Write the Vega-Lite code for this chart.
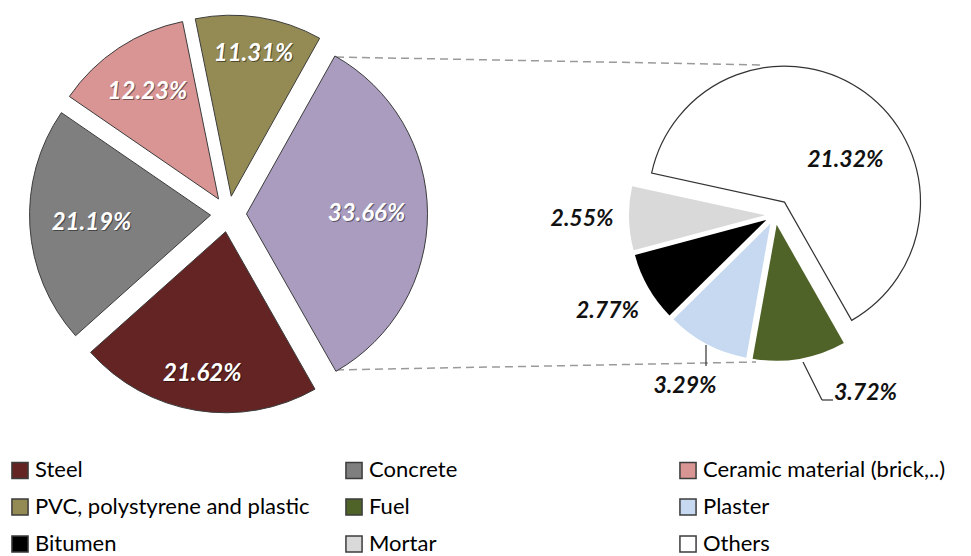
{
  "$schema": "https://vega.github.io/schema/vega-lite/v6.json",
  "width": 971,
  "height": 440,
  "padding": 0,
  "background": "white",
  "config": {"view": {"stroke": null}},
  "data": {"values": [
    {"pie": "main", "cat": "Steel", "value": 21.62, "ord": 1, "label": "21.62%"},
    {"pie": "main", "cat": "Concrete", "value": 21.19, "ord": 2, "label": "21.19%"},
    {"pie": "main", "cat": "Ceramic material (brick,..)", "value": 12.23, "ord": 3, "label": "12.23%"},
    {"pie": "main", "cat": "PVC, polystyrene and plastic", "value": 11.31, "ord": 4, "label": "11.31%"},
    {"pie": "main", "cat": "Others (group)", "value": 33.66, "ord": 5, "label": "33.66%"},
    {"pie": "detail", "cat": "Fuel", "value": 3.72, "ord": 1, "label": "3.72%"},
    {"pie": "detail", "cat": "Plaster", "value": 3.29, "ord": 2, "label": "3.29%"},
    {"pie": "detail", "cat": "Bitumen", "value": 2.77, "ord": 3, "label": "2.77%"},
    {"pie": "detail", "cat": "Mortar", "value": 2.55, "ord": 4, "label": "2.55%"},
    {"pie": "detail", "cat": "Others", "value": 21.32, "ord": 5, "label": "21.32%"}
  ]},
  "layer": [
    {
      "data": {"values": [{}]},
      "mark": {"type": "rule", "color": "#9a9a9a", "strokeWidth": 1.5, "strokeDash": [8, 5]},
      "encoding": {
        "x": {"datum": 336, "type": "quantitative", "scale": {"domain": [0, 971], "nice": false, "zero": false}, "axis": null},
        "y": {"datum": 57, "type": "quantitative", "scale": {"domain": [0, 440], "nice": false, "zero": false, "reverse": true}, "axis": null},
        "x2": {"datum": 762},
        "y2": {"datum": 65}
      }
    },
    {
      "data": {"values": [{}]},
      "mark": {"type": "rule", "color": "#9a9a9a", "strokeWidth": 1.5, "strokeDash": [8, 5]},
      "encoding": {
        "x": {"datum": 336, "type": "quantitative", "scale": {"domain": [0, 971], "nice": false, "zero": false}, "axis": null},
        "y": {"datum": 370, "type": "quantitative", "scale": {"domain": [0, 440], "nice": false, "zero": false, "reverse": true}, "axis": null},
        "x2": {"datum": 756},
        "y2": {"datum": 362}
      }
    },
    {
      "transform": [{"filter": "datum.pie == 'main'"}],
      "mark": {
        "type": "arc", "outerRadius": 181, "stroke": "#3c3c3c", "strokeWidth": 1,
        "xOffset": {"expr": "18*sin(2.625+PI*(datum.value_start+datum.value_end))"},
        "yOffset": {"expr": "-18*cos(2.625+PI*(datum.value_start+datum.value_end))"}
      },
      "encoding": {
        "x": {"datum": 228.5, "type": "quantitative", "scale": {"domain": [0, 971], "nice": false, "zero": false}, "axis": null},
        "y": {"datum": 214, "type": "quantitative", "scale": {"domain": [0, 440], "nice": false, "zero": false, "reverse": true}, "axis": null},
        "theta": {"field": "value", "type": "quantitative", "stack": "normalize", "scale": {"domain": [0, 1], "range": [2.625, 8.908]}},
        "order": {"field": "ord", "type": "quantitative"},
        "color": {
          "field": "cat", "type": "nominal",
          "scale": {
            "domain": ["Steel", "Concrete", "Ceramic material (brick,..)", "PVC, polystyrene and plastic", "Fuel", "Plaster", "Bitumen", "Mortar", "Others", "Others (group)"],
            "range": ["#632423", "#7f7f7f", "#d99594", "#948a54", "#4f6228", "#c6d9f1", "#000000", "#d9d9d9", "#ffffff", "#a99cbf"]
          },
          "legend": {
            "values": ["Steel", "Concrete", "Ceramic material (brick,..)", "PVC, polystyrene and plastic", "Fuel", "Plaster", "Bitumen", "Mortar", "Others"],
            "title": null,
            "orient": "bottom",
            "direction": "horizontal",
            "columns": 3,
            "gridAlign": "all",
            "offset": 10,
            "padding": 9,
            "rowPadding": 13,
            "columnPadding": 32,
            "symbolType": "square",
            "symbolSize": 260,
            "symbolStrokeWidth": 1.5,
            "labelFont": "Lato",
            "labelFontSize": 22,
            "labelColor": "#000000",
            "labelLimit": 400,
            "labelOffset": 4,
            "labelBaseline": "middle",
            "encode": {
              "symbols": {"update": {
                "stroke": {"signal": "indexof(['Fuel','Plaster','Bitumen','Mortar'], datum.value) >= 0 ? 'transparent' : '#333333'"},
                "strokeWidth": {"value": 1.5}
              }}
            }
          }
        }
      }
    },
    {
      "transform": [{"filter": "datum.pie == 'detail'"}],
      "mark": {
        "type": "arc", "outerRadius": 136, "stroke": "#333333",
        "xOffset": {"expr": "(datum.cat == 'Others' ? 16 : 10)*sin(2.625+PI*(datum.value_start+datum.value_end))"},
        "yOffset": {"expr": "-(datum.cat == 'Others' ? 16 : 10)*cos(2.625+PI*(datum.value_start+datum.value_end))"}
      },
      "encoding": {
        "x": {"datum": 775, "type": "quantitative", "scale": {"domain": [0, 971], "nice": false, "zero": false}, "axis": null},
        "y": {"datum": 215, "type": "quantitative", "scale": {"domain": [0, 440], "nice": false, "zero": false, "reverse": true}, "axis": null},
        "theta": {"field": "value", "type": "quantitative", "stack": "normalize", "scale": {"domain": [0, 1], "range": [2.625, 8.908]}},
        "order": {"field": "ord", "type": "quantitative"},
        "color": {"field": "cat", "type": "nominal"},
        "strokeWidth": {"condition": {"test": "datum.cat == 'Others'", "value": 1.2}, "value": 0}
      }
    },
    {
      "transform": [{"filter": "datum.pie == 'main'"}],
      "mark": {
        "type": "text", "font": "Lato", "fontSize": 24, "fontStyle": "italic", "fontWeight": "bold",
        "align": "center", "baseline": "middle", "fill": "#000000", "opacity": 0.45, "dx": 1, "dy": 1,
        "radius": {"expr": "182 - 44*abs(sin(2.625+PI*(datum.value_start+datum.value_end))) - 13*abs(cos(2.625+PI*(datum.value_start+datum.value_end)))"}
      },
      "encoding": {
        "x": {"datum": 228.5, "type": "quantitative", "scale": {"domain": [0, 971], "nice": false, "zero": false}, "axis": null},
        "y": {"datum": 214, "type": "quantitative", "scale": {"domain": [0, 440], "nice": false, "zero": false, "reverse": true}, "axis": null},
        "theta": {"field": "value", "type": "quantitative", "stack": "normalize", "scale": {"domain": [0, 1], "range": [2.625, 8.908]}},
        "order": {"field": "ord", "type": "quantitative"},
        "text": {"field": "label"}
      }
    },
    {
      "transform": [{"filter": "datum.pie == 'main'"}],
      "mark": {
        "type": "text", "font": "Lato", "fontSize": 24, "fontStyle": "italic", "fontWeight": "bold",
        "align": "center", "baseline": "middle", "fill": "#ffffff",
        "radius": {"expr": "182 - 44*abs(sin(2.625+PI*(datum.value_start+datum.value_end))) - 13*abs(cos(2.625+PI*(datum.value_start+datum.value_end)))"}
      },
      "encoding": {
        "x": {"datum": 228.5, "type": "quantitative", "scale": {"domain": [0, 971], "nice": false, "zero": false}, "axis": null},
        "y": {"datum": 214, "type": "quantitative", "scale": {"domain": [0, 440], "nice": false, "zero": false, "reverse": true}, "axis": null},
        "theta": {"field": "value", "type": "quantitative", "stack": "normalize", "scale": {"domain": [0, 1], "range": [2.625, 8.908]}},
        "order": {"field": "ord", "type": "quantitative"},
        "text": {"field": "label"}
      }
    },
    {
      "transform": [{"filter": "datum.pie == 'detail'"}],
      "mark": {
        "type": "text", "font": "Lato", "fontSize": 23, "fontStyle": "italic", "fontWeight": "bold",
        "align": "center", "baseline": "middle", "fill": "#111111",
        "radius": {"expr": "datum.cat == 'Others' ? 90 : 193"},
        "dx": {"expr": "datum.cat == 'Others' ? 17 : (datum.cat == 'Fuel' ? 58 : 0)"},
        "dy": {"expr": "datum.cat == 'Others' ? 17 : (datum.cat == 'Fuel' ? -12 : 0)"}
      },
      "encoding": {
        "x": {"datum": 775, "type": "quantitative", "scale": {"domain": [0, 971], "nice": false, "zero": false}, "axis": null},
        "y": {"datum": 215, "type": "quantitative", "scale": {"domain": [0, 440], "nice": false, "zero": false, "reverse": true}, "axis": null},
        "theta": {"field": "value", "type": "quantitative", "stack": "normalize", "scale": {"domain": [0, 1], "range": [2.625, 8.908]}},
        "order": {"field": "ord", "type": "quantitative"},
        "text": {"field": "label"}
      }
    },
    {
      "data": {"values": [{}]},
      "mark": {"type": "rule", "color": "#333333", "strokeWidth": 1.2},
      "encoding": {
        "x": {"datum": 706, "type": "quantitative", "scale": {"domain": [0, 971], "nice": false, "zero": false}, "axis": null},
        "y": {"datum": 345, "type": "quantitative", "scale": {"domain": [0, 440], "nice": false, "zero": false, "reverse": true}, "axis": null},
        "x2": {"datum": 706},
        "y2": {"datum": 366}
      }
    },
    {
      "data": {"values": [{}]},
      "mark": {"type": "rule", "color": "#333333", "strokeWidth": 1.2},
      "encoding": {
        "x": {"datum": 803, "type": "quantitative", "scale": {"domain": [0, 971], "nice": false, "zero": false}, "axis": null},
        "y": {"datum": 362, "type": "quantitative", "scale": {"domain": [0, 440], "nice": false, "zero": false, "reverse": true}, "axis": null},
        "x2": {"datum": 822},
        "y2": {"datum": 400}
      }
    },
    {
      "data": {"values": [{}]},
      "mark": {"type": "rule", "color": "#333333", "strokeWidth": 1.2},
      "encoding": {
        "x": {"datum": 822, "type": "quantitative", "scale": {"domain": [0, 971], "nice": false, "zero": false}, "axis": null},
        "y": {"datum": 400, "type": "quantitative", "scale": {"domain": [0, 440], "nice": false, "zero": false, "reverse": true}, "axis": null},
        "x2": {"datum": 833},
        "y2": {"datum": 400}
      }
    }
  ]
}
